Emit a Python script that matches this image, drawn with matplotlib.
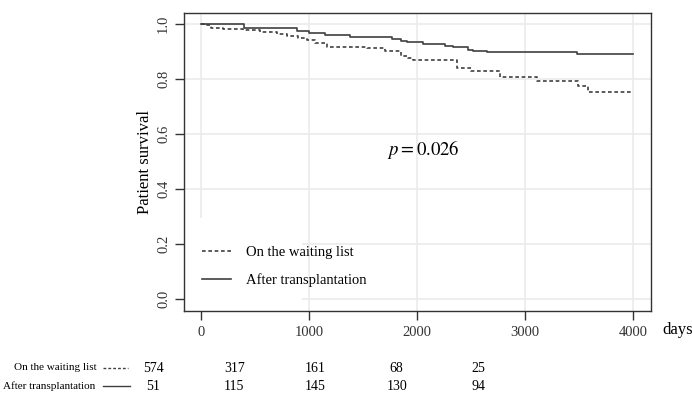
import matplotlib
matplotlib.use("Agg")
import matplotlib.pyplot as plt
from matplotlib.patches import Rectangle
from matplotlib.lines import Line2D

plt.rcParams['font.family'] = ['Liberation Serif', 'DejaVu Serif']
plt.rcParams['mathtext.fontset'] = 'stix'

# ---- data ----
t_wait = [0, 30, 90, 200, 390, 550, 700, 800, 900, 980, 1060, 1170, 1540, 1700, 1850, 1920, 1960, 2370, 2500, 2770, 3110, 3490, 3580, 4000]
s_wait = [1.0, 0.995, 0.987, 0.982, 0.978, 0.972, 0.965, 0.958, 0.950, 0.942, 0.930, 0.918, 0.912, 0.900, 0.885, 0.875, 0.869, 0.839, 0.829, 0.809, 0.794, 0.775, 0.754, 0.754]

t_tx = [0, 400, 890, 1000, 1150, 1380, 1770, 1850, 1910, 2060, 2260, 2335, 2475, 2520, 2645, 3480, 4000]
s_tx = [1.0, 0.984, 0.976, 0.969, 0.960, 0.951, 0.945, 0.939, 0.933, 0.927, 0.920, 0.915, 0.907, 0.902, 0.897, 0.890, 0.890]

x_ticks = [0, 1000, 2000, 3000, 4000]
y_ticks = [0.0, 0.2, 0.4, 0.6, 0.8, 1.0]
y_ticklabels = ["0.0", "0.2", "0.4", "0.6", "0.8", "1.0"]

risk_times = [0, 1000, 2000, 3000, 4000]
risk_wait = [574, 317, 161, 68, 25]
risk_tx = [51, 115, 145, 130, 94]

label_wait = "On the waiting list"
label_tx = "After transplantation"
p_text = r"$p = 0.026$"

W, H = 692, 394
fig = plt.figure(figsize=(W / 100, H / 100), dpi=100)

L, R, T, B = 184, 651, 13, 311
ax = fig.add_axes([L / W, 1 - B / H, (R - L) / W, (B - T) / H])
ax.set_xlim(-157, 4167)
ax.set_ylim(-0.044, 1.04)

ax.set_xticks(x_ticks)
ax.set_yticks(y_ticks)
ax.set_yticklabels(y_ticklabels, rotation=90, va='center')
ax.grid(True, color='#ebebeb', linewidth=1.2, zorder=0)
ax.set_axisbelow(True)
ax.tick_params(direction='out', length=6.5, width=1, color='#333333',
               labelsize=10.5, labelcolor='#333333')
ax.tick_params(axis='y', pad=3.5)
ax.tick_params(axis='x', pad=4.5)
for sp in ax.spines.values():
    sp.set_color('#333333')
    sp.set_linewidth(1.0)

# white box behind legend area (covers grid as in reference)
ax.add_patch(Rectangle((0, 0), (302 - L) / (R - L), (B - 218) / (B - T),
                       transform=ax.transAxes, facecolor='white',
                       edgecolor='none', zorder=1))

ln_wait, = ax.step(t_wait, s_wait, where='post', color='#404040',
                   linewidth=1.2, linestyle=(0, (2.2, 1.6)), zorder=3,
                   label=label_wait)
ln_tx, = ax.step(t_tx, s_tx, where='post', color='#404040',
                 linewidth=1.2, zorder=3, label=label_tx)

ax.set_ylabel("Patient survival", fontsize=12, labelpad=3)

ax.text(2060, 0.542, p_text, fontsize=13.5, ha='center', va='center')

leg = ax.legend(handles=[ln_wait, ln_tx], loc='upper left',
                bbox_to_anchor=((202 - L) / (R - L), (B - 246) / (B - T)),
                frameon=False, fontsize=10.5, handlelength=2.0,
                handletextpad=1.0, labelspacing=0.95, borderpad=0,
                borderaxespad=0)

fig.text(662 / W, 1 - 330 / H, "days", fontsize=12, va='center', ha='left')

# ---- risk table ----
rax = fig.add_axes([153 / W, 0, (478 - 153) / W, 1])
rax.set_xlim(0, 4000)
rax.set_ylim(H, 0)
rax.axis('off')
row_y = [368, 386]
for cnts, y in zip([risk_wait, risk_tx], row_y):
    for tt, c in zip(risk_times, cnts):
        rax.text(tt, y, str(c), ha='center', va='center', fontsize=10)

fig.text(14 / W, 1 - 368 / H, label_wait, ha='left', va='center', fontsize=8)
fig.text(3 / W, 1 - 386 / H, label_tx, ha='left', va='center', fontsize=8)
fig.add_artist(Line2D([103 / W, 128 / W], [1 - 368 / H, 1 - 368 / H],
                      transform=fig.transFigure, color='#404040',
                      linewidth=1.0, linestyle=(0, (2, 1.5))))
fig.add_artist(Line2D([103 / W, 130 / W], [1 - 386 / H, 1 - 386 / H],
                      transform=fig.transFigure, color='#404040',
                      linewidth=1.0))

fig.savefig("out.png", dpi=100, facecolor='white')
